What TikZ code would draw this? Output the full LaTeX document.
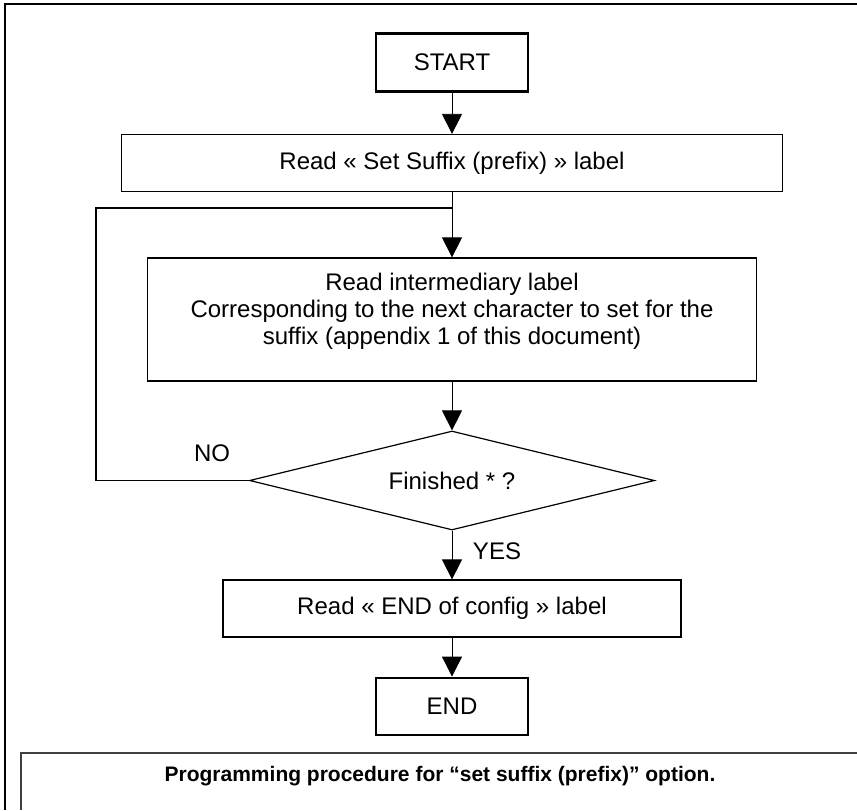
\documentclass[tikz,border=0pt]{standalone}
\usepackage{fontspec}
\setmainfont{Liberation Sans}
\usetikzlibrary{shapes.geometric, arrows.meta}

\begin{document}
\begin{tikzpicture}[x=0.5pt, y=-0.5pt,
        font=\fontsize{12}{13.5}\selectfont,
        >={Triangle[width=10pt, length=10pt]},
        box/.style = {draw, rectangle, line width=0.6pt, inner sep=0pt},
        term/.style = {draw, rectangle, line width=1.4pt, inner sep=0pt,
                       minimum width=76pt, minimum height=29pt},
        decision/.style = {draw, diamond, aspect=4, line width=0.6pt, inner sep=0pt,
                           minimum width=202.5pt, minimum height=49.5pt}]
                \useasboundingbox (0,0) rectangle (857,810);
                % frame of the page and caption box
                \draw [line width=1pt] (857,4) -- (5,4) -- (5,810);
                \draw [line width=0.8pt, black!75] (857,753) -- (21,753) -- (21,810);

                \node[term] at (452, 62.5) (start) {START};
                \node[box, minimum width=330.5pt, minimum height=28.5pt] at (452, 163) (readset) {Read « Set Suffix (prefix) » label};
                \node[box, minimum width=304.5pt, minimum height=61.5pt] at (452, 319.5) (inter) {};
                \node[align=center] at (452, 311) (intertext) {Read intermediary label\\
                        Corresponding to the next character to set for the\\
                        suffix (appendix 1 of this document)};
                \node[decision] at (452, 480.5) (finished) {Finished * ?};
                \node[box, minimum width=229pt, minimum height=28.5pt] at (452, 608.5) (readend) {Read « END of config » label};
                \node[term, minimum height=28.5pt] at (452, 706.5) (stop) {END};

                \node at (212, 453) (no) {NO};
                \node at (497, 551) (yes) {YES};
                \node[font=\fontsize{10.5}{12}\selectfont\bfseries] at (440, 776) (caption) {Programming procedure for “set suffix (prefix)” option.};

                \coordinate (join) at (452, 208);

                \draw [->] (start) -- (readset);
                \draw [->] (readset) -- (inter);
                \draw [->] (inter) -- (finished);
                \draw [->] (finished) -- (readend);
                \draw [->] (readend) -- (stop);

                \draw [line width=0.6pt] (finished.west) -- ++(-153,0) |- (join);
            \end{tikzpicture}
\end{document}
